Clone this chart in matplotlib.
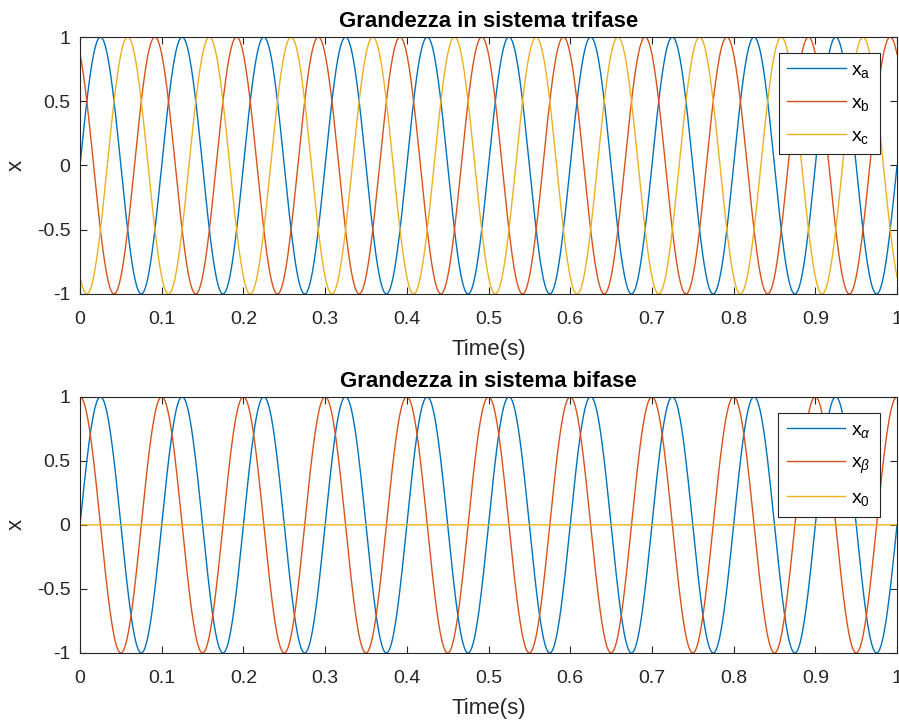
import numpy as np
import matplotlib
matplotlib.use("Agg")
import matplotlib.pyplot as plt

plt.rcParams['font.family'] = ['Liberation Sans', 'DejaVu Sans']
plt.rcParams['mathtext.fontset'] = 'custom'
plt.rcParams['mathtext.rm'] = 'Liberation Sans'
plt.rcParams['mathtext.it'] = 'Liberation Sans:italic'

# signal parameters (10 Hz, unit amplitude)
t_end = 1.0
n_samples = 2001
freq_hz = 10

labels_top = ['x$_\\mathrm{a}$', 'x$_\\mathrm{b}$', 'x$_\\mathrm{c}$']
amp_top = [1.0, 1.0, 1.0]
phase_top_deg = [0, 120, -120]

labels_bot = ['x$_{\\alpha}$', 'x$_{\\beta}$', 'x$_\\mathrm{0}$']
amp_bot = [1.0, 1.0, 0.0]
phase_bot_deg = [0, 90, 0]

titles = ['Grandezza in sistema trifase', 'Grandezza in sistema bifase']
colors = ['#0072BD', '#D95319', '#EDB120']
xticks = [0, 0.1, 0.2, 0.3, 0.4, 0.5, 0.6, 0.7, 0.8, 0.9, 1]
xtick_labels = ['0', '0.1', '0.2', '0.3', '0.4', '0.5', '0.6', '0.7', '0.8', '0.9', '1']
yticks = [-1, -0.5, 0, 0.5, 1]
ytick_labels = ['-1', '-0.5', '0', '0.5', '1']

t = np.linspace(0, t_end, n_samples)

fig = plt.figure(figsize=(8.99, 7.2), dpi=100)
ax1 = fig.add_axes([0.089, 0.5917, 0.9088, 0.3569])
ax2 = fig.add_axes([0.089, 0.0931, 0.9088, 0.3559])

for ax, labels, amps, phases, title in [
        (ax1, labels_top, amp_top, phase_top_deg, titles[0]),
        (ax2, labels_bot, amp_bot, phase_bot_deg, titles[1])]:
    for lab, a, ph, c in zip(labels, amps, phases, colors):
        ax.plot(t, a * np.sin(2 * np.pi * freq_hz * t + np.deg2rad(ph)),
                color=c, lw=1.0, label=lab)
    ax.set_xlim(0, 1)
    ax.set_ylim(-1, 1)
    ax.set_xticks(xticks)
    ax.set_xticklabels(xtick_labels)
    ax.set_yticks(yticks)
    ax.set_yticklabels(ytick_labels)
    ax.tick_params(direction='in', top=True, right=True, length=5,
                   labelsize=14, colors='#262626')
    ax.tick_params(axis='x', pad=12)
    ax.tick_params(axis='y', pad=7)
    for s in ax.spines.values():
        s.set_color('#262626')
        s.set_linewidth(0.8)
    ax.set_title(title, fontsize=16, fontweight='bold', pad=7)
    ax.set_xlabel('Time(s)', fontsize=16, color='#262626', labelpad=8)
    ax.set_ylabel('x', fontsize=16, color='#262626', labelpad=7)
    leg = ax.legend(loc='upper right', bbox_to_anchor=(0.979, 0.938),
                    borderaxespad=0, fontsize=14, handlelength=3.0,
                    labelspacing=0.72, fancybox=False, framealpha=1,
                    edgecolor='#262626', handletextpad=0.3, borderpad=0.45)
    leg.get_frame().set_linewidth(0.8)

fig.savefig('out.png', dpi=100)
